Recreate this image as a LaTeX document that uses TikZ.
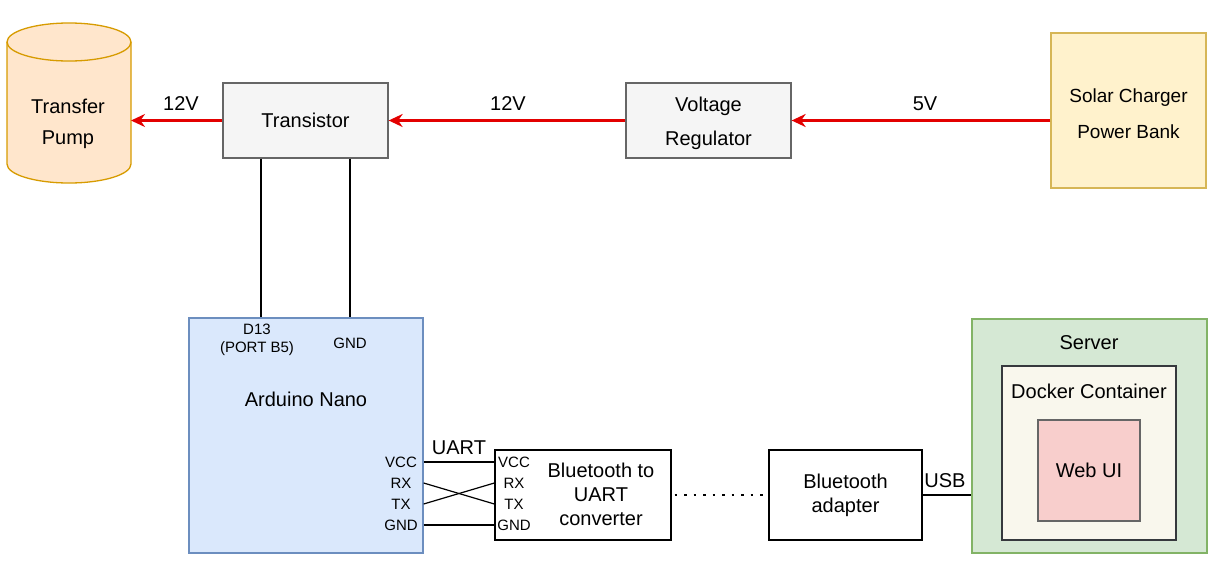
\documentclass[tikz,border=0pt]{standalone}
\usepackage{fontspec}
\setmainfont{Liberation Sans}
\usetikzlibrary{arrows.meta}
\definecolor{grayfill}{HTML}{F5F5F5}
\definecolor{graydraw}{HTML}{666666}
\definecolor{orfill}{HTML}{FFE6CC}
\definecolor{ordraw}{HTML}{D79B00}
\definecolor{yefill}{HTML}{FFF2CC}
\definecolor{yedraw}{HTML}{D6B656}
\definecolor{blfill}{HTML}{DAE8FC}
\definecolor{bldraw}{HTML}{6C8EBF}
\definecolor{grfill}{HTML}{D5E8D4}
\definecolor{grdraw}{HTML}{82B366}
\definecolor{dkfill}{HTML}{F9F7ED}
\definecolor{dkdraw}{HTML}{36393D}
\definecolor{rdfill}{HTML}{F8CECC}
\definecolor{wire}{HTML}{E30000}
\tikzset{
  box/.style={draw, line width=1.3pt, align=center, inner sep=0pt, font=\fontsize{20}{34}\selectfont},
  graybox/.style={box, fill=grayfill, draw=graydraw},
  plainbox/.style={box, fill=white, draw=black},
  lbl/.style={inner sep=0pt, align=center, font=\fontsize{20}{24}\selectfont},
  pin/.style={inner sep=0pt, font=\fontsize{15}{18}\selectfont},
  power/.style={draw=wire, line width=3pt, -{Stealth[length=14pt,width=13pt]}},
  ctrl/.style={draw=black, line width=2.5pt},
  thin/.style={draw=black, line width=1.2pt}
}
\begin{document}
\begin{tikzpicture}[x=1pt,y=-1pt]
\useasboundingbox (0,0) rectangle (1221,576);
% Transfer pump cylinder
\fill[orfill] (7,42) -- (7,164) arc (180:0:62 and 19) -- (131,42) arc (0:-180:62 and 19) -- cycle;
\draw[ordraw, line width=1.3pt] (7,42) -- (7,164) arc (180:0:62 and 19) -- (131,42) arc (0:-180:62 and 19) -- cycle;
\draw[ordraw, line width=1.3pt] (7,42) arc (180:0:62 and 19);
\node[lbl, font=\fontsize{20}{31}\selectfont] (pump) at (68,124) {Transfer\\Pump};
\coordinate (pumpE) at (131,120.5);
% top row boxes
\node[graybox, minimum width=165, minimum height=75] (tr) at (305.5,120.5) {Transistor};
\node[graybox, minimum width=165, minimum height=75] (vr) at (708.5,120.5) {};
\node[lbl, font=\fontsize{20}{34}\selectfont] (vrl) at (708.5,123.5) {Voltage\\Regulator};
\node[box, fill=yefill, draw=yedraw, minimum width=155, minimum height=155] (sol) at (1128.5,110.5) {};
\node[lbl, font=\fontsize{19}{36}\selectfont] (soll) at (1128.5,114) {Solar Charger\\Power Bank};
% arrows
\draw[power] (sol.west |- vr.east) -- (vr.east);
\draw[power] (vr.west) -- (tr.east);
\draw[power] (tr.west) -- (pumpE);
\node[lbl] (l5v) at (925,104) {5V};
\node[lbl] (l12a) at (508,104) {12V};
\node[lbl] (l12b) at (181,104) {12V};
% Arduino
\node[box, fill=blfill, draw=bldraw, minimum width=234, minimum height=235] (ard) at (306,435.5) {};
\node[pin, align=center] (d13) at (257,340) {D13\\(PORT B5)};
\node[pin] (agnd) at (350,343.5) {GND};
\node[lbl] (ardl) at (306,399) {Arduino Nano};
\node[pin] (aV) at (401,462) {VCC};
\node[pin] (aR) at (401,483) {RX};
\node[pin] (aT) at (401,504) {TX};
\node[pin] (aG) at (401,525) {GND};
\draw[ctrl] (tr.south -| 261,0) -- (ard.north -| 261,0);
\draw[ctrl] (tr.south -| 350,0) -- (ard.north -| 350,0);
% Bluetooth to UART
\node[plainbox, minimum width=176, minimum height=90] (btu) at (583,495) {};
\node[lbl] (btul) at (601,494) {Bluetooth to\\UART\\converter};
\node[pin] (bV) at (514,462) {VCC};
\node[pin] (bR) at (514,483) {RX};
\node[pin] (bT) at (514,504) {TX};
\node[pin] (bG) at (514,525) {GND};
\draw[thin] (ard.east |- aV) -- (btu.west |- bV);
\draw[thin] (ard.east |- aR) -- (btu.west |- bT);
\draw[thin] (ard.east |- aT) -- (btu.west |- bR);
\draw[thin] (ard.east |- aG) -- (btu.west |- bG);
\node[lbl] (uart) at (459,448) {UART};
% Bluetooth adapter
\node[plainbox, minimum width=153, minimum height=90, font=\fontsize{20}{24}\selectfont] (bta) at (845.5,495) {Bluetooth\\adapter};
\draw[black, line width=2.5pt, dash pattern=on 2.5pt off 7pt] ([xshift=3]btu.east) -- (bta.west);
% Server
\node[box, fill=grfill, draw=grdraw, minimum width=235, minimum height=234] (srv) at (1089.5,436) {};
\node[lbl] (srvl) at (1089,343) {Server};
\node[box, fill=dkfill, draw=dkdraw, minimum width=174, minimum height=174] (dk) at (1089,453) {};
\node[lbl] (dkl) at (1089,391) {Docker Container};
\node[box, fill=rdfill, draw=graydraw, minimum width=102, minimum height=101] (web) at (1089,470.5) {Web UI};
\draw[thin] (bta.east) -- (srv.west |- bta.east);
\node[lbl] (usb) at (945,481) {USB};
\end{tikzpicture}
\end{document}
